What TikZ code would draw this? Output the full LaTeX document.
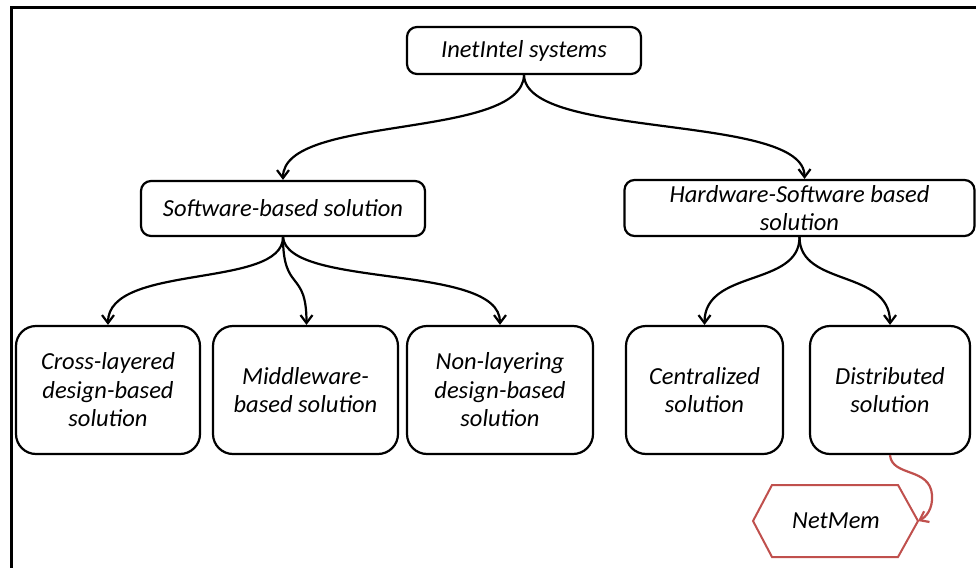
\documentclass[tikz,border=0pt]{standalone}
\usepackage{fontspec}
\newfontfamily\calfont{Carlito}
\usetikzlibrary{arrows.meta}
\definecolor{redline}{HTML}{C0504D}
\begin{document}
\begin{tikzpicture}[x=1pt,y=-1pt,
  lbl/.style={font=\calfont\itshape\fontsize{24.5}{28.5}\selectfont, align=center, inner sep=0pt},
  topbox/.style={lbl, draw=black, line width=2.2pt, rounded corners=10pt},
  leafbox/.style={lbl, draw=black, line width=2.2pt, rounded corners=20pt, minimum height=128pt},
  conn/.style={line width=2.2pt, -{Straight Barb[length=8pt,width=12pt]}},
  redconn/.style={draw=redline, line width=2.2pt, -{Straight Barb[length=8pt,width=12pt]}}]
\useasboundingbox (0,0) rectangle (976,567);
\fill[white] (0,0) rectangle (976,567);
% frame
\draw[line width=3pt] (11,600) -- (11,8) -- (1000,8);
% nodes
\node[topbox, minimum width=234pt, minimum height=47pt] (top) at (524,50.5) {InetIntel systems};
\node[topbox, minimum width=284pt, minimum height=55pt] (sw) at (283,208.5) {Software-based solution};
\node[topbox, minimum width=350pt, minimum height=56pt] (hw) at (799.5,208) {Hardware-Software based\\solution};
\node[leafbox, minimum width=184pt] (cross) at (108,390) {Cross-layered\\design-based\\solution};
\node[leafbox, minimum width=185pt] (mid) at (305.5,390) {Middleware-\\based solution};
\node[leafbox, minimum width=186pt] (non) at (500,390) {Non-layering\\design-based\\solution};
\node[leafbox, minimum width=157pt] (cen) at (704.5,390) {Centralized\\solution};
\node[leafbox, minimum width=160pt] (dis) at (890,390) {Distributed\\solution};
% NetMem hexagon
\draw[redline, line width=2pt, fill=white] (753,521) -- (772,485) -- (898,485) -- (918,521) -- (898,557) -- (772,557) -- cycle;
\node[lbl] (net) at (836,521) {NetMem};
\coordinate (nettip) at (918,521);
% connectors
\draw[conn] (top.south) .. controls +(-2,65) and +(0,-66) .. (sw.north);
\draw[conn] (top.south) .. controls +(2,65) and +(0,-66) .. ([xshift=5pt]hw.north);
\draw[conn] (sw.south) .. controls +(0,52) and +(0,-62) .. (cross.north);
\draw[conn] (sw.south) .. controls +(0,56) and +(0,-56) .. ([xshift=1pt]mid.north);
\draw[conn] (sw.south) .. controls +(5,52) and +(0,-62) .. (non.north);
\draw[conn] (hw.south) .. controls +(0,50) and +(0,-56) .. (cen.north);
\draw[conn] (hw.south) .. controls +(0,50) and +(0,-56) .. (dis.north);
\draw[redconn] (dis.south) .. controls +(2,22) and +(-2,-28) .. (932,495) .. controls +(1,14) and +(8,-4) .. (nettip);
\end{tikzpicture}
\end{document}
